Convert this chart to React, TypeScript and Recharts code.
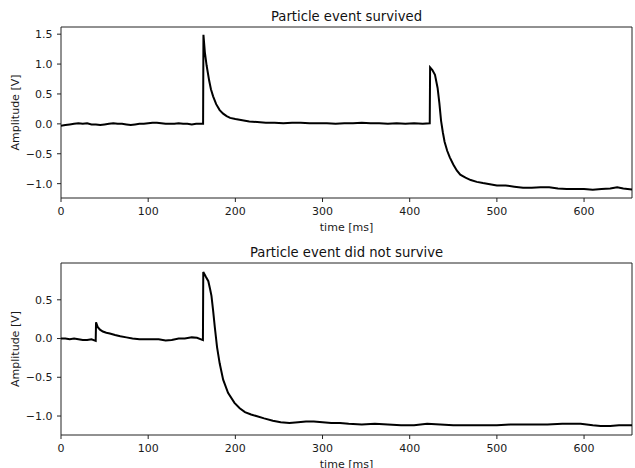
import { LineChart, Line, XAxis, YAxis, ReferenceArea } from 'recharts';

// time [ms] and amplitude [V]
const SURVIVED_T = [
  0, 5, 10, 15, 20, 25, 30, 35, 40, 45, 50, 55, 60, 65, 70, 75, 80, 85, 90, 95,
  100, 105, 110, 115, 120, 125, 130, 135, 140, 145, 150, 155, 160, 163,
  163.4, 165, 167, 170, 172, 174.5, 178, 182, 186, 190, 194, 200, 208, 216, 225, 235,
  245, 255, 265, 275, 285, 295, 305, 315, 325, 335, 345, 355, 365, 375, 385, 395,
  405, 415, 423,
  423.4, 426, 429, 432, 434, 436, 438, 440, 443, 446, 450, 454, 458, 464, 470, 477,
  484, 492, 500, 510, 520, 530, 540, 550, 560, 570, 580, 590, 600, 610, 620, 630,
  638, 645, 655,
];
const SURVIVED_V = [
  -0.03, -0.02, -0.01, 0.0, 0.01, 0.0, 0.01, -0.01, -0.01, -0.02, -0.01, 0.0, 0.01, 0.0, 0.0, -0.01, -0.02, -0.01, 0.0, 0.0,
  0.01, 0.02, 0.02, 0.01, 0.0, 0.0, 0.0, 0.01, 0.0, 0.0, -0.01, 0.0, 0.0, 0.0,
  1.49, 1.2, 0.98, 0.72, 0.58, 0.46, 0.33, 0.23, 0.17, 0.13, 0.1, 0.08, 0.06, 0.04, 0.03, 0.02,
  0.02, 0.01, 0.02, 0.02, 0.01, 0.01, 0.01, 0.0, 0.01, 0.01, 0.02, 0.01, 0.01, 0.0, 0.01, 0.0,
  0.01, 0.0, 0.01,
  0.945, 0.9, 0.82, 0.6, 0.35, 0.05, -0.14, -0.3, -0.45, -0.56, -0.68, -0.78, -0.85, -0.9, -0.94, -0.97,
  -0.99, -1.01, -1.03, -1.03, -1.05, -1.07, -1.07, -1.06, -1.06, -1.08, -1.09, -1.09, -1.09, -1.1, -1.09, -1.08,
  -1.06, -1.08, -1.1,
];

const DIED_T = [
  0, 5, 10, 15, 20, 25, 30, 35, 39.8,
  40.2, 42, 44.7, 48, 52, 56, 62, 68, 75, 82, 90, 97, 105, 112, 120, 127, 135, 142, 150, 156, 162.8,
  163.2, 166, 169, 171, 172.6, 174.5, 176.4, 179, 182, 186, 191.6, 199, 205, 211, 218, 224, 233,
  243, 252, 262, 272, 281, 290, 300, 310, 320, 330, 345, 360, 375, 390, 405, 420, 435, 450, 465,
  482, 500, 515, 530, 545, 558, 575, 596, 610, 619, 630, 640, 655,
];
const DIED_V = [
  0.0, 0.0, -0.01, 0.0, -0.01, -0.02, -0.02, -0.01, -0.03,
  0.21, 0.15, 0.115, 0.09, 0.075, 0.065, 0.045, 0.03, 0.015, 0.0, -0.01, -0.01, -0.01, -0.01, -0.025, -0.02, 0.0, 0.0, 0.015, 0.01, -0.02,
  0.86, 0.8, 0.74, 0.64, 0.55, 0.36, 0.15, -0.11, -0.32, -0.53, -0.7, -0.83, -0.9, -0.95, -0.98, -1.0, -1.03,
  -1.06, -1.08, -1.09, -1.08, -1.07, -1.07, -1.08, -1.09, -1.09, -1.1, -1.11, -1.1, -1.11, -1.12, -1.12, -1.1, -1.11, -1.12, -1.12,
  -1.12, -1.12, -1.11, -1.11, -1.11, -1.11, -1.1, -1.1, -1.12, -1.13, -1.13, -1.12, -1.12,
];

const X_TICKS = [0, 100, 200, 300, 400, 500, 600];
const TOP_Y_TICKS = [-1.0, -0.5, 0.0, 0.5, 1.0, 1.5];
const BOTTOM_Y_TICKS = [-1.0, -0.5, 0.0, 0.5];

const FONT = '"DejaVu Sans", sans-serif';
const X_MAX = 655;

const fmt = (v: number) => v.toFixed(1).replace('-', '\u2212');

const YLabel = ({ viewBox }: any) => {
  const cx = 15;
  const cy = viewBox.y + viewBox.height / 2;
  return (
    <text x={cx} y={cy} transform={`rotate(-90 ${cx} ${cy})`} textAnchor="middle"
      dominantBaseline="central" fontSize={11} fontFamily={FONT} fill="#1a1a1a">
      Amplitude [V]
    </text>
  );
};

const XLabel = ({ viewBox }: any) => (
  <text x={viewBox.x + viewBox.width / 2} y={viewBox.y + 33} textAnchor="middle"
    fontSize={11} fontFamily={FONT} fill="#1a1a1a">
    time [ms]
  </text>
);

function Panel({ title, data, yDomain, yTicks, top, height, marginTop, marginBottom }: any) {
  return (
    <div style={{ position: 'absolute', left: 0, top, width: 635, height }}>
      <div style={{
        position: 'absolute', left: 61, width: 571, top: marginTop - 18.5, textAlign: 'center',
        fontFamily: FONT, fontSize: 13.2, lineHeight: '15px', color: '#111',
      }}>
        {title}
      </div>
      <LineChart width={635} height={height} data={data}
        margin={{ top: marginTop, right: 3, bottom: marginBottom, left: 0 }}>
        <XAxis dataKey="t" type="number" domain={[0, X_MAX]} ticks={X_TICKS} allowDataOverflow
          axisLine={false} tickSize={4} tickMargin={5} height={30}
          tick={{ fontSize: 11, fill: '#1a1a1a', fontFamily: FONT }} tickLine={{ stroke: '#222' }}
          label={<XLabel />} />
        <YAxis type="number" domain={yDomain} ticks={yTicks} allowDataOverflow width={61}
          axisLine={false} tickSize={4} tickMargin={4.5} tickFormatter={fmt}
          tick={{ fontSize: 11, fill: '#1a1a1a', fontFamily: FONT }} tickLine={{ stroke: '#222' }}
          label={<YLabel />} />
        <ReferenceArea x1={0} x2={X_MAX} y1={yDomain[0]} y2={yDomain[1]} fill="none" fillOpacity={0}
          stroke="#222" strokeWidth={1} />
        <Line type="linear" dataKey="v" stroke="#000" strokeWidth={2} dot={false}
          isAnimationActive={false} />
      </LineChart>
    </div>
  );
}

export default function App() {
  const survived = SURVIVED_T.map((t, i) => ({ t, v: SURVIVED_V[i] }));
  const died = DIED_T.map((t, i) => ({ t, v: DIED_V[i] }));

  return (
    <div style={{ position: 'absolute', left: 0, top: 0, width: 635, height: 468, background: '#fff', overflow: 'hidden' }}>
      <Panel title="Particle event survived" data={survived} yDomain={[-1.24, 1.62]} yTicks={TOP_Y_TICKS}
        top={0} height={235} marginTop={27} marginBottom={7} />
      <Panel title="Particle event did not survive" data={died} yDomain={[-1.245, 0.975]} yTicks={BOTTOM_Y_TICKS}
        top={235} height={233} marginTop={28} marginBottom={3} />
    </div>
  );
}
